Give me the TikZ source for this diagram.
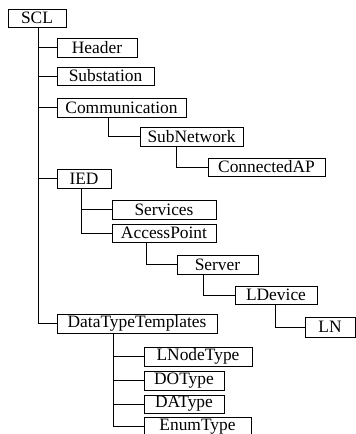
\documentclass[tikz,border=0pt]{standalone}
\usepackage{fontspec}
\setmainfont{Liberation Serif}
\newfontfamily\tnrfont{Liberation Serif}
\newcommand\bx[6]{\node[box, minimum width={(#4-#2)*1pt}, minimum height={(#5-#3)*1pt}] (#1) at ({(#2+#4)/2},{(#3+#5)/2}) {#6};}
\begin{document}
\begin{tikzpicture}[x=1pt,y=-1pt,
  box/.style={draw=black, line width=0.9pt, fill=white, inner sep=0pt, font=\tnrfont\fontsize{17.4}{19}\selectfont},
  conn/.style={draw=black, line width=1pt}]
\useasboundingbox (0,0) rectangle (356,434);
\bx{scl}{8}{9}{66}{27}{SCL}
\bx{header}{57}{38}{137}{57}{Header}
\bx{subst}{57}{67}{154}{85}{Substation}
\bx{comm}{57}{98}{186}{117}{Communication}
\bx{subnet}{140}{127}{243}{146}{SubNetwork}
\bx{cap}{208}{158}{325}{176}{ConnectedAP}
\bx{ied}{57}{169}{111}{188}{IED}
\bx{serv}{112}{200}{216}{219}{Services}
\bx{ap}{112}{224}{216}{242}{AccessPoint}
\bx{server}{177}{255}{258}{274}{Server}
\bx{ldev}{235}{286}{317}{304}{LDevice}
\bx{ln}{305}{317}{355}{337}{LN}
\bx{dtt}{57}{314}{217}{333}{DataTypeTemplates}
\bx{lnt}{144}{347}{252}{366}{LNodeType}
\bx{dot}{144}{371}{224}{390}{DOType}
\bx{dat}{144}{395}{224}{413}{DAType}
\bx{enum}{144}{417}{251}{436}{EnumType}
\path[conn]
  ([xshift=1pt]scl.south) |- (header.west)
  ([xshift=1pt]scl.south) |- (subst.west)
  ([xshift=1pt]scl.south) |- (comm.west)
  ([xshift=1pt]scl.south) |- (ied.west)
  ([xshift=1pt]scl.south) |- (dtt.west)
  ([xshift=-13.5pt]comm.south) |- (subnet.west)
  ([xshift=-15.5pt]subnet.south) |- (cap.west)
  ([xshift=-3pt]ied.south) |- (serv.west)
  ([xshift=-3pt]ied.south) |- (ap.west)
  ([xshift=-18pt]ap.south) |- (server.west)
  ([xshift=-14.5pt]server.south) |- (ldev.west)
  ([xshift=-1pt]ldev.south) |- (ln.west)
  ([xshift=-24pt]dtt.south) |- (lnt.west)
  ([xshift=-24pt]dtt.south) |- (dot.west)
  ([xshift=-24pt]dtt.south) |- (dat.west)
  ([xshift=-24pt]dtt.south) |- (enum.west);
\end{tikzpicture}
\end{document}
